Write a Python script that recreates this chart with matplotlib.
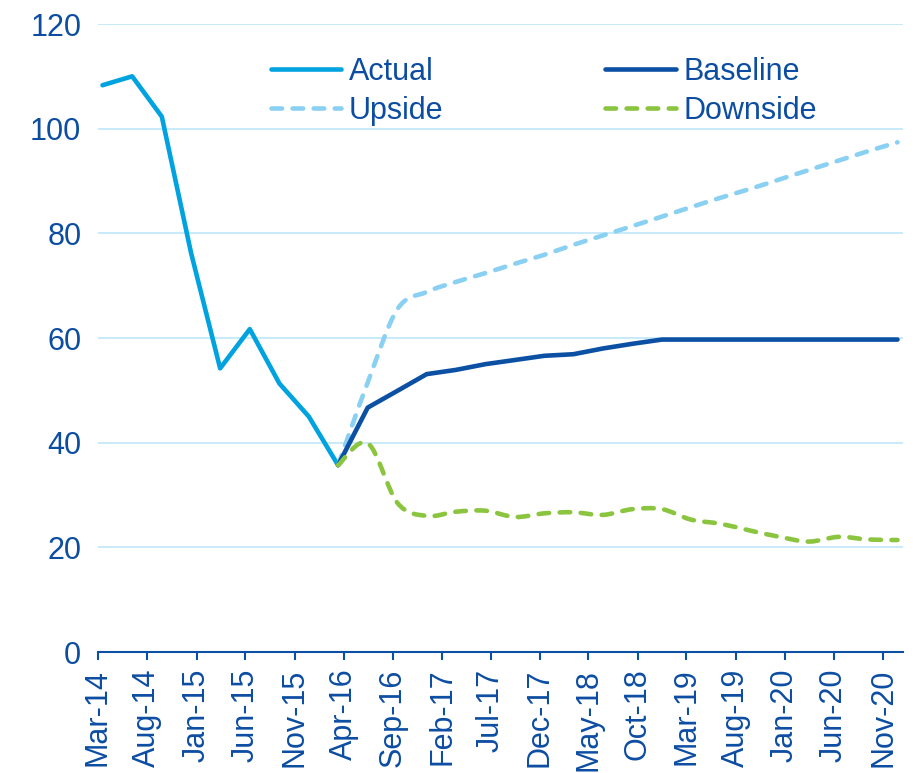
import numpy as np
import pandas as pd
import matplotlib
matplotlib.use("Agg")
import matplotlib.pyplot as plt
import matplotlib.dates as mdates
from matplotlib.path import Path
from matplotlib.patches import PathPatch
from matplotlib.lines import Line2D

plt.rcParams["font.family"] = ["Liberation Sans", "DejaVu Sans"]

# quarterly observations, plotted mid-month
actual_dates = pd.date_range("2014-03-01", periods=9, freq="3MS") + pd.Timedelta(days=14)
actual = [108.3, 110.0, 102.3, 76.2, 54.2, 61.7, 51.3, 45.0, 35.7]

scenario_dates = pd.date_range("2016-03-01", periods=20, freq="3MS") + pd.Timedelta(days=14)
baseline = [35.7, 46.7, 49.9, 53.1, 53.9, 55.0, 55.8, 56.6, 56.9, 58.0,
            58.9, 59.7, 59.7, 59.7, 59.7, 59.7, 59.7, 59.7, 59.7, 59.7]
upside = [35.7, 51.5, 65.5, 68.8, 70.7, 72.4, 74.2, 75.9, 77.8, 79.6,
          81.4, 83.2, 85.0, 86.8, 88.5, 90.3, 92.1, 93.9, 95.7, 97.4]
downside = [35.7, 39.9, 28.5, 26.0, 26.8, 27.0, 25.8, 26.5, 26.7, 26.2,
            27.3, 27.3, 25.3, 24.5, 23.2, 22.0, 21.1, 22.0, 21.5, 21.4]

labels = ["Actual", "Upside", "Baseline", "Downside"]

C_ACTUAL = "#00A3E0"
C_BASE = "#0B50A3"
C_UP = "#8AD0F2"
C_DOWN = "#8BC53F"
C_TEXT = "#0C4DA2"
C_GRID = "#BFE6F8"

LW = 3.3
DASH = (2.3, 2.3)


def smooth_path(dates, values):
    # cubic bezier through the points (same idea as a spreadsheet "smoothed line")
    x = mdates.date2num(dates)
    y = np.asarray(values, dtype=float)
    n = len(x)
    verts = [(x[0], y[0])]
    codes = [Path.MOVETO]
    for i in range(n - 1):
        i0 = max(i - 1, 0)
        i3 = min(i + 2, n - 1)
        c1 = (x[i] + (x[i + 1] - x[i0]) / 6, y[i] + (y[i + 1] - y[i0]) / 6)
        c2 = (x[i + 1] - (x[i3] - x[i]) / 6, y[i + 1] - (y[i3] - y[i]) / 6)
        verts += [c1, c2, (x[i + 1], y[i + 1])]
        codes += [Path.CURVE4] * 3
    return Path(verts, codes)


fig = plt.figure(figsize=(9.17, 7.73), dpi=100)
ax = fig.add_axes([98 / 917, 1 - 652 / 773, 805 / 917, 628 / 773])

ax.plot(actual_dates, actual, color=C_ACTUAL, lw=LW, solid_capstyle="round",
        solid_joinstyle="round", zorder=3)

for vals, col, z in [(upside, C_UP, 4), (downside, C_DOWN, 6)]:
    ax.add_patch(PathPatch(smooth_path(scenario_dates, vals), fill=False,
                           edgecolor=col, lw=LW, linestyle=(0, DASH),
                           capstyle="round", joinstyle="round", zorder=z))

ax.plot(scenario_dates, baseline, color=C_BASE, lw=LW, solid_capstyle="round",
        solid_joinstyle="round", zorder=5)

ax.set_xlim(pd.Timestamp("2014-03-01"), pd.Timestamp("2021-01-01"))
ax.set_ylim(0, 120)
ax.set_yticks(np.arange(0, 121, 20))
ax.set_xticks(pd.date_range("2014-03-01", "2020-11-01", freq="5MS"))
ax.xaxis.set_major_formatter(mdates.DateFormatter("%b-%y"))
plt.setp(ax.get_xticklabels(), rotation=90)

ax.grid(axis="y", color=C_GRID, lw=1.2, zorder=0)
for s in ["top", "right", "left"]:
    ax.spines[s].set_visible(False)
ax.spines["bottom"].set_color(C_BASE)
ax.spines["bottom"].set_linewidth(1.5)
ax.spines["bottom"].set_zorder(2)
ax.tick_params(axis="y", length=0, pad=12, labelsize=22, labelcolor=C_TEXT)
ax.tick_params(axis="x", length=6, width=1.5, color=C_BASE, pad=6,
               labelsize=22, labelcolor=C_TEXT)

handles = [
    Line2D([], [], color=C_ACTUAL, lw=LW, solid_capstyle="round"),
    Line2D([], [], color=C_UP, lw=LW, linestyle=(0, DASH), dash_capstyle="round"),
    Line2D([], [], color=C_BASE, lw=LW, solid_capstyle="round"),
    Line2D([], [], color=C_DOWN, lw=LW, linestyle=(0, DASH), dash_capstyle="round"),
]
leg = fig.legend(handles, labels, ncol=2, loc="center",
                 bbox_to_anchor=(544 / 917, 1 - 91.5 / 773), frameon=False,
                 fontsize=22, handlelength=2.3, handletextpad=0.25,
                 columnspacing=5.3, labelspacing=0.3, borderpad=0)
for t in leg.get_texts():
    t.set_color(C_TEXT)

fig.savefig("out.png", dpi=100)
